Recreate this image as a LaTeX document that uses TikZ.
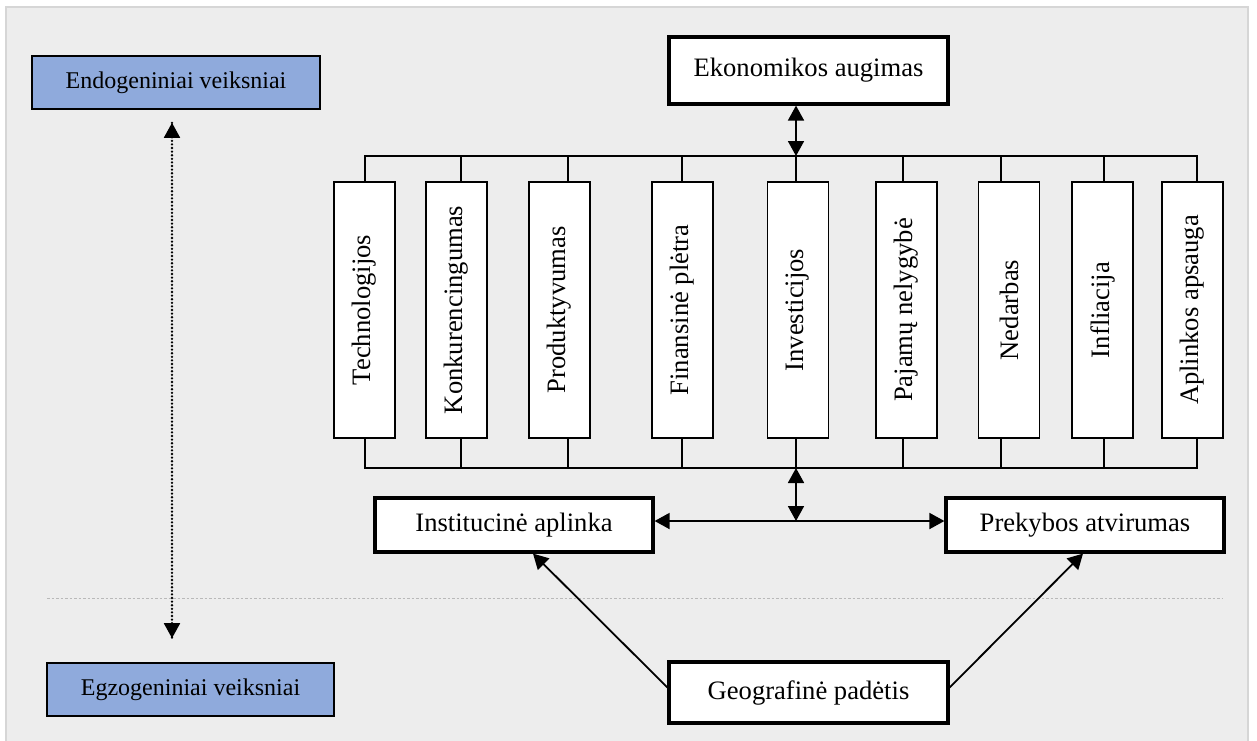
\documentclass[tikz,border=0pt]{standalone}
\usepackage{fontspec}
\setmainfont{Liberation Serif}
\usetikzlibrary{arrows.meta,calc}
\definecolor{bgc}{HTML}{EDEDED}
\definecolor{bgline}{HTML}{D6D6D6}
\definecolor{bluefill}{HTML}{8FAADC}
\begin{document}
\begin{tikzpicture}[x=1pt,y=-1pt,
  bigfont/.style={font=\fontsize{26.6}{30}\selectfont},
  midfont/.style={font=\fontsize{24}{28}\selectfont},
  mainbox/.style={draw=black,line width=3.2pt,fill=white,inner sep=0pt,minimum width=279pt,bigfont},
  factorbox/.style={draw=black,line width=1.6pt,fill=white,inner sep=0pt,minimum width=256pt,minimum height=61pt,rotate=90,bigfont},
  levelbox/.style={draw=black,line width=1.6pt,fill=bluefill,inner sep=0pt,minimum width=288pt,minimum height=53pt,midfont},
  wire/.style={line width=1.4pt,draw=black},
  tip/.style={-{Triangle[length=15pt,width=16pt]}},
  dtip/.style={{Triangle[length=15pt,width=16pt]}-{Triangle[length=15pt,width=16pt]}},
  arr/.style={line width=1.8pt,draw=black}]
\useasboundingbox (0,0) rectangle (1257,740);
\fill[white] (0,0) rectangle (1257,740);
\draw[bgline,line width=2pt,fill=bgc] (6,7) rectangle (1248,742);

% level labels
\node[levelbox] (endo) at (176,82.5) {Endogeniniai veiksniai};
\node[levelbox,minimum width=287pt] (egzo) at (190.5,689.5) {Egzogeniniai veiksniai};

% separator line
\coordinate (sepL) at (47,598);
\coordinate (sepR) at (1222,598);
\draw[gray!55,line width=1pt,dash pattern=on 2.5pt off 2pt] (sepL) -- (sepR);

% dotted arrow
\draw[line width=2.6pt,line cap=round,dash pattern=on 0pt off 3.6pt,
  shorten <=13pt, shorten >=24pt]
  ([xshift=-4pt]endo.south) -- ([xshift=-18.5pt]egzo.north);
\draw[line width=1.8pt,{Triangle[length=15pt,width=16pt]}-{Triangle[length=15pt,width=16pt]},
  dash pattern=on 0pt off 1000pt, shorten <=13pt, shorten >=24pt]
  ([xshift=-4pt]endo.south) -- ([xshift=-18.5pt]egzo.north);

% main boxes
\node[mainbox,minimum height=67pt] (ek) at (808.5,70.5) {Ekonomikos augimas};
\node[mainbox,minimum width=278pt,minimum height=54pt] (inst) at (514,525) {Institucinė aplinka};
\node[mainbox,minimum width=278pt,minimum height=54pt] (prek) at (1085,525) {Prekybos atvirumas};
\node[mainbox,minimum height=61pt] (geo) at (808.5,692.5) {Geografinė padėtis};

% factor boxes
\foreach \i/\cx/\txt in {1/364.5/Technologijos,2/456.5/Konkurencingumas,3/559.5/Produktyvumas,
  4/682.5/Finansinė plėtra,5/798/Investicijos,6/906.5/Pajamų nelygybė,7/1009/Nedarbas,
  8/1102.5/Infliacija,9/1192.5/Aplinkos apsauga}
  \node[factorbox] (t\i) at (\cx,310) {\txt};

% bus wiring
\foreach \i/\dx in {1/0.5,2/4.5,3/8.5,4/-0.5,5/-2,6/-3.5,7/-8,8/1.5,9/4.5}{
  \draw[wire] ([xshift=\dx pt]t\i.east) -- ++(0,-26);
  \draw[wire] ([xshift=\dx pt]t\i.west) -- ++(0,30);
}
\coordinate (bt) at (796,156);
\coordinate (bb) at (796,468);
\draw[wire] ([xshift=0.5pt]t1.east |- bt) -- ([xshift=4.5pt]t9.east |- bt);
\draw[wire] ([xshift=0.5pt]t1.west |- bb) -- ([xshift=4.5pt]t9.west |- bb);

% arrows
\draw[arr,dtip] (ek.south -| bt) -- (bt);
\coordinate (hj) at (796,521);
\draw[arr,dtip] (bb) -- (hj);
\draw[arr,tip] (hj) -- (inst.east |- hj);
\draw[arr,tip] (hj) -- (prek.west |- hj);
\draw[arr,tip] ([yshift=5pt]geo.west) -- ($(inst.south)+(19,0)$);
\draw[arr,tip] ([yshift=5pt]geo.east) -- ($(prek.south)+(-2,0)$);
\end{tikzpicture}
\end{document}
